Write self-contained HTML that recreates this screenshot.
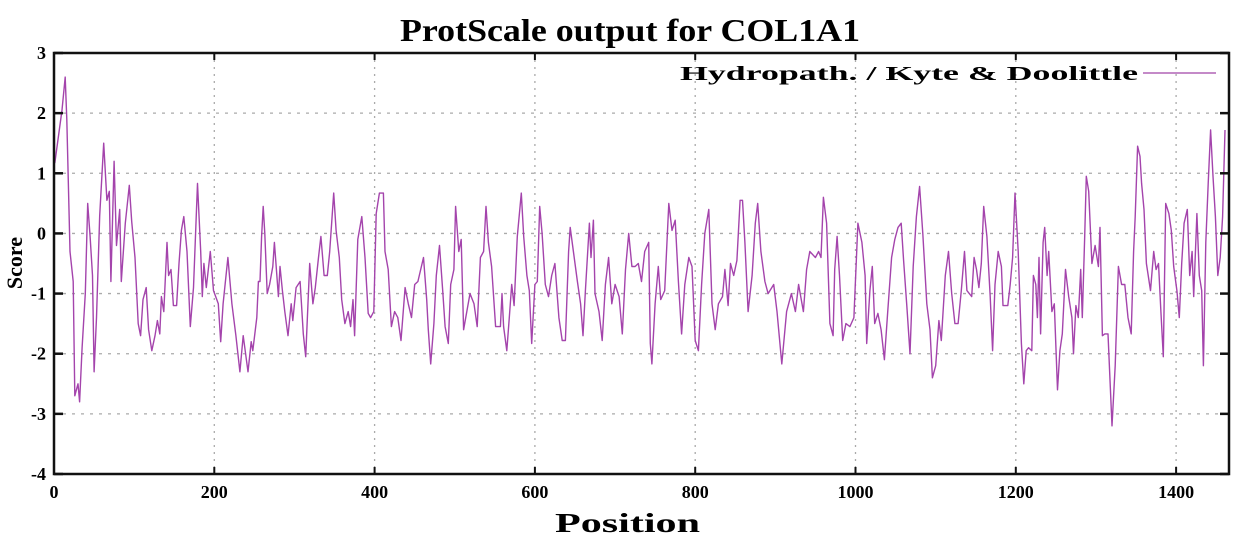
<!DOCTYPE html>
<html><head><meta charset="utf-8"><style>
html,body{margin:0;padding:0;background:#fff;}
svg{display:block;font-family:"Liberation Serif",serif;}
</style></head><body>
<svg id="chart" width="1238" height="542" viewBox="0 0 1238 542" xmlns="http://www.w3.org/2000/svg">
<text x="400" y="41" font-size="32" font-weight="bold" textLength="460" lengthAdjust="spacingAndGlyphs">ProtScale output for COL1A1</text>
<g id="grid"></g>
<g id="series"></g>
<rect x="54" y="53" width="1175" height="421" fill="none" stroke="#111" stroke-width="2.5"/>
<g id="axes"></g>
<text transform="translate(22,263) rotate(-90)" text-anchor="middle" font-size="22" font-weight="bold">Score</text>
<text x="555" y="532" font-size="27" font-weight="bold" textLength="145" lengthAdjust="spacingAndGlyphs">Position</text>
<g>
<text x="680" y="80" font-size="20" font-weight="bold" textLength="458" lengthAdjust="spacingAndGlyphs">Hydropath. / Kyte &amp; Doolittle</text>
<line x1="1143" y1="73" x2="1216" y2="73" stroke="#c48ac8" stroke-width="2"/>
</g>
</svg>
<script>
const xTicks=[0,200,400,600,800,1000,1200,1400];
const yTicks=[3,2,1,0,-1,-2,-3,-4];
const positions=[1,10,14,16,20,24,26,30,32,35,39,42,45,48,50,53,57,62,66,69,71,75,78,82,84,89,94,97,101,105,108,111,115,118,122,126,129,132,134,137,141,143,146,149,153,156,159,162,166,170,174,179,183,185,187,190,195,199,205,208,211,217,222,227,232,236,
242,246,248,253,255,257,259,261,263,266,269,273,275,280,282,285,288,292,296,298,302,307,311,314,319,323,326,330,333,337,341,344,347,349,352,356,359,363,367,370,373,375,379,384,388,392,395,399,402,406,411,413,417,421,425,429,433,438,442,446,450,454,461,465,467,470,474,477,481,
485,488,492,495,499,501,505,508,511,515,519,524,528,532,536,539,542,546,551,557,559,561,565,568,571,574,578,583,586,590,593,596,600,603,606,609,613,617,621,625,630,634,638,642,644,648,653,657,660,663,668,670,673,675,680,684,688,692,696,700,705,709,713,717,721,725,
729,733,737,742,744,746,750,754,757,762,767,771,775,779,783,787,792,796,800,804,808,812,817,821,825,829,834,837,841,844,848,852,856,859,862,866,871,875,878,882,887,891,898,902,908,914,920,925,929,935,939,943,950,954,957,960,964,968,
972,974,977,980,984,988,993,998,1003,1008,1012,1014,1018,1021,1024,1028,1032,1036,1040,1045,1049,1053,1057,1060,1064,1068,1072,1076,1080,1084,1089,1093,1096,1100,1104,1107,1112,1116,1120,1124,1128,1132,1136,1139,1145,1148,1151,1154,1157,1160,1164,1168,1171,1174,1178,1182,1184,1190,1193,1196,1199,1203,1207,1210,
1213,1216,1220,1222,1225,1227,1229,1231,1234,1236,1239,1241,1245,1248,1252,1255,1258,1262,1266,1270,1272,1275,1278,1281,1283,1286,1288,1291,1295,1299,1303,1305,1308,1311,1315,1320,1324,1328,1332,1336,1340,1344,1347,1349,1352,1355,1357,1360,1363,1368,1372,1375,1378,1381,1384,1387,1391,1394,1397,1401,1404,1407,1410,1414,1417,1420,1422,1426,1429,1432,1434,1437,1440,1443,1446,1449,1452,1455,1458,1461];
const scores=[1.17,2.05,2.6,1.9,-0.3,-0.8,-2.7,-2.5,-2.8,-1.9,-1,0.5,-0.05,-0.7,-2.3,-1.4,0.3,1.5,0.55,0.7,-0.8,1.2,-0.2,0.4,-0.8,0.17,0.8,0.2,-0.4,-1.5,-1.7,-1.1,-0.9,-1.6,-1.95,-1.7,-1.45,-1.67,-1.05,-1.3,-0.15,-0.7,-0.6,-1.2,-1.2,-0.5,0.05,0.28,-0.3,-1.55,-0.9,0.83,-0.3,-1.05,-0.5,-0.9,-0.3,-0.95,-1.17,-1.8,-1.17,-0.4,-1.17,-1.7,-2.3,-1.7,
-2.3,-1.8,-1.95,-1.4,-0.8,-0.8,-0.05,0.45,0,-1,-0.85,-0.55,-0.15,-1.05,-0.55,-0.95,-1.3,-1.7,-1.17,-1.45,-0.9,-0.8,-1.67,-2.05,-0.5,-1.17,-0.9,-0.4,-0.05,-0.7,-0.7,-0.3,0.28,0.67,0.05,-0.4,-1.1,-1.5,-1.3,-1.55,-1.1,-1.7,-0.1,0.28,-0.4,-1.33,-1.4,-1.3,0.33,0.67,0.67,-0.3,-0.6,-1.55,-1.3,-1.4,-1.78,-0.9,-1.17,-1.4,-0.85,-0.8,-0.4,-1.1,-1.6,-2.17,-1.5,-0.7,-0.2,
-0.95,-1.55,-1.83,-0.85,-0.6,0.45,-0.3,-0.1,-1.6,-1.3,-1,-1.17,-1.55,-0.4,-0.3,0.45,-0.15,-0.55,-1.55,-1.55,-1,-1.55,-1.95,-1.4,-0.85,-1.2,-0.05,0.67,-0.05,-0.7,-0.95,-1.83,-0.85,-0.8,0.45,0,-0.85,-1.05,-0.7,-0.5,-1.4,-1.78,-1.78,-0.3,0.1,-0.3,-0.8,-1.17,-1.7,-0.95,0.17,-0.4,0.22,-1,-1.3,-1.78,-0.85,-0.4,-1.17,-0.85,-1.05,-1.67,-0.6,0,-0.55,-0.55,
-0.5,-0.8,-0.3,-0.15,-1.83,-2.17,-1.17,-0.55,-1.1,-0.95,0.5,0.05,0.22,-0.8,-1.67,-0.85,-0.4,-0.55,-1.78,-1.95,-0.85,0,0.4,-1.17,-1.6,-1.17,-1.05,-0.6,-1.2,-0.5,-0.7,-0.45,0.55,0.55,-0.15,-1.3,-0.7,0.17,0.5,-0.3,-0.8,-1,-0.85,-1.3,-2.17,-1.3,-1,-1.3,-0.85,-1.3,-0.6,-0.3,-0.4,-0.3,-0.4,0.6,0.17,-1.5,
-1.7,-0.6,-0.05,-0.7,-1.78,-1.5,-1.55,-1.4,0.17,-0.15,-0.7,-1.83,-0.95,-0.55,-1.5,-1.33,-1.6,-2.1,-1.33,-0.4,-0.1,0.1,0.17,-0.45,-1.2,-2,-0.55,0.28,0.78,0,-1.17,-1.6,-2.4,-2.2,-1.45,-1.78,-0.7,-0.3,-1,-1.5,-1.5,-0.95,-0.3,-0.95,-1.05,-0.4,-0.6,-0.9,-0.5,0.45,-0.05,-1.05,-1.95,-0.85,-0.3,-0.55,-1.2,-1.2,-0.85,-0.4,0.67,-0.3,-1.83,-2.5,
-1.95,-1.9,-1.95,-0.7,-0.85,-1.4,-0.4,-1.67,-0.15,0.1,-0.7,-0.3,-1.3,-1.17,-2.6,-1.95,-1.67,-0.6,-1.05,-1.4,-2,-1.2,-1.4,-0.6,-1.4,-0.05,0.95,0.7,-0.5,-0.2,-0.55,0.1,-1.7,-1.67,-1.67,-3.2,-2.2,-0.55,-0.85,-0.85,-1.4,-1.67,-0.3,0.28,1.45,1.28,0.83,0.4,-0.5,-0.95,-0.3,-0.6,-0.5,-1.3,-2.05,0.5,0.33,0.05,-0.55,-0.95,-1.4,-0.5,0.17,0.4,-0.7,-0.3,-1.05,0.33,-0.7,-0.95,-2.2,-0.15,0.83,1.72,0.95,0.28,-0.7,-0.4,0.28,1.72];

const L=54,R=1229,T=53,B=474,XMAX=1466,YMIN=-4,YMAX=3;
const sx=v=>L+(v/XMAX)*(R-L);
const sy=v=>B-(v-YMIN)/(YMAX-YMIN)*(B-T);
const NS='http://www.w3.org/2000/svg';
const grid=document.getElementById('grid'),axes=document.getElementById('axes'),series=document.getElementById('series');
function mk(tag,attrs,parent){const e=document.createElementNS(NS,tag);for(const k in attrs)e.setAttribute(k,attrs[k]);parent.appendChild(e);return e;}
xTicks.forEach(t=>{
  const x=sx(t);
  if(t>0){const g=mk('line',{x1:x,y1:T,x2:x,y2:B,stroke:'#aaa','stroke-width':1.3,'stroke-dasharray':'2,5'},grid);
  
  }
  const a=mk('line',{x1:x,y1:B,x2:x,y2:B-7,stroke:'#111','stroke-width':2},axes);
  
  
  const b=mk('line',{x1:x,y1:T,x2:x,y2:T+7,stroke:'#111','stroke-width':2},axes);
  
  
  const tx=mk('text',{x:x,y:498,'text-anchor':'middle','font-size':18,'font-weight':'bold'},axes);
  tx.textContent=t;
  
  
});
yTicks.forEach(t=>{
  const y=sy(t);
  if(t<3&&t>-4){const g=mk('line',{x1:L,y1:y,x2:R,y2:y,stroke:'#aaa','stroke-width':1.3,'stroke-dasharray':'3,6'},grid);
  
  }
  const a=mk('line',{x1:L,y1:y,x2:L+9,y2:y,stroke:'#111','stroke-width':2.5},axes);
  
  
  const b=mk('line',{x1:R,y1:y,x2:R-9,y2:y,stroke:'#111','stroke-width':2.5},axes);
  
  
  const tx=mk('text',{x:46,y:y+6,'text-anchor':'end','font-size':18,'font-weight':'bold'},axes);
  tx.textContent=t;
  
  
});
const pts=positions.map((p,i)=>sx(p).toFixed(1)+','+sy(scores[i]).toFixed(1)).join(' ');
const line=mk('polyline',{points:pts,fill:'none',stroke:'#a444ac','stroke-width':1.4,'stroke-linejoin':'round'},series);


</script>
</body></html>
